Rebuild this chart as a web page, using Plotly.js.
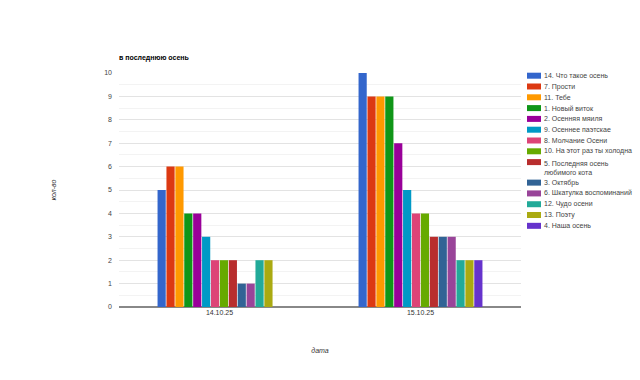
<!DOCTYPE html>
<html>
<head>
<meta charset="utf-8">
<script src="https://cdn.plot.ly/plotly-3.0.1.min.js"></script>
<style>html,body{margin:0;padding:0;background:#fff;}#chart{width:640px;height:380px;}</style>
</head>
<body>
<div id="chart"></div>
<script>
const categories = ["14.10.25", "15.10.25"];
const seriesNames = [
  "14. Что такое осень",
  "7. Прости",
  "11. Тебе",
  "1. Новый виток",
  "2. Осенняя мяиля",
  "9. Осеннее паэтскае",
  "8. Молчание Осени",
  "10. На этот раз ты холодна",
  "5. Последняя осень<br>любимого кота",
  "3. Октябрь",
  "6. Шкатулка воспоминаний",
  "12. Чудо осени",
  "13. Поэту",
  "4. Наша осень"
];
const values1410 = [5, 6, 6, 4, 4, 3, 2, 2, 2, 1, 1, 2, 2, 0];
const values1510 = [10, 9, 9, 9, 7, 5, 4, 4, 3, 3, 3, 2, 2, 2];
const colors = ["#3366cc", "#dc3912", "#ff9900", "#109618", "#990099", "#0099c6", "#dd4477",
                "#66aa00", "#b82e2e", "#316395", "#994499", "#22aa99", "#aaaa11", "#6633cc"];
const yTicks = [0, 1, 2, 3, 4, 5, 6, 7, 8, 9, 10];
const chartTitle = "в последнюю осень";
const xTitle = "дата";
const yTitle = "кол-во";

const FONT = "Liberation Sans, Arial, sans-serif";
const W = 640, H = 380;
const mL = 119, mR = 119, mT = 73, mB = 73;
const plotW = W - mL - mR, plotH = H - mT - mB;

const traces = seriesNames.map((name, i) => ({
  type: "bar",
  name: name,
  x: categories,
  y: [values1410[i], values1510[i]],
  marker: {color: colors[i], line: {width: 0}},
  hoverinfo: "x+y+name",
  showlegend: false
}));

// custom compact legend (Google-Charts-like)
const shapes = [];
const annotations = [];
const legTop = 75.7, lineH = 10.8, itemGap = 10.8;
let cy = legTop;
const px2x = px => (px - mL) / plotW;
const py2y = py => (H - mB - py) / plotH;
seriesNames.forEach((name, i) => {
  const nLines = name.split("<br>").length;
  shapes.push({
    type: "rect", xref: "paper", yref: "paper",
    x0: px2x(527), x1: px2x(541), y0: py2y(cy - 3), y1: py2y(cy + 3),
    fillcolor: colors[i], line: {width: 0}
  });
  annotations.push({
    xref: "paper", yref: "paper", x: px2x(543), y: py2y(cy + (nLines - 1) * lineH / 2),
    xanchor: "left", yanchor: "middle", align: "left", showarrow: false,
    text: name, font: {family: FONT, size: 7, color: "#444"}, borderpad: 0
  });
  cy += itemGap + (nLines - 1) * lineH * 0.9;
});

const layout = {
  width: W, height: H,
  margin: {l: mL, r: mR, t: mT, b: mB, pad: 0},
  paper_bgcolor: "#fff", plot_bgcolor: "#fff",
  font: {family: FONT, size: 7, color: "#444"},
  title: {
    text: "<b>" + chartTitle + "</b>",
    xref: "paper", x: 0, xanchor: "left",
    yref: "container", y: 1 - 58 / H, yanchor: "middle",
    font: {family: FONT, size: 7, color: "#000"}
  },
  barmode: "group",
  bargap: 0.38,
  bargroupgap: 0.08,
  xaxis: {
    type: "category",
    tickfont: {size: 7, color: "#333"},
    ticks: "", showgrid: false, showline: false, zeroline: false,
    title: {text: "<i>" + xTitle + "</i>", font: {size: 7, color: "#333"}, standoff: 33}
  },
  yaxis: {
    range: [0, 10],
    tickvals: yTicks,
    ticktext: yTicks.map(String),
    tickfont: {size: 7, color: "#444"},
    ticks: "", ticklabelstandoff: 6,
    showgrid: true, gridcolor: "#e3e3e3", gridwidth: 1,
    minor: {dtick: 0.5, showgrid: true, gridcolor: "#f3f3f3", gridwidth: 1},
    zeroline: true, zerolinecolor: "#888888", zerolinewidth: 1.5,
    showline: false,
    title: {text: "<i>" + yTitle + "</i>", font: {size: 7, color: "#333"}, standoff: 46}
  },
  shapes: shapes,
  annotations: annotations,
  showlegend: false
};

Plotly.newPlot("chart", traces, layout, {displayModeBar: false, staticPlot: true});
</script>
</body>
</html>
